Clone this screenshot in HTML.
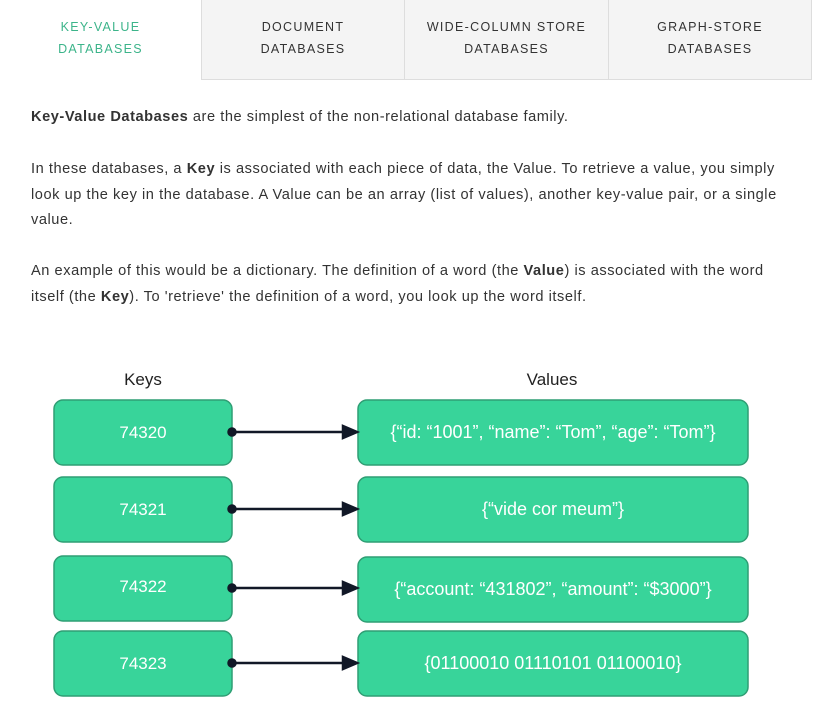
<!DOCTYPE html>
<html><head><meta charset="utf-8"><style>
body{margin:0;width:816px;height:708px;background:#fff;position:relative;overflow:hidden;font-family:"Liberation Sans",sans-serif}
.tab{position:absolute;top:0;height:80px;text-align:center;font-size:12.5px;letter-spacing:1.3px;line-height:22px;padding-top:16px;box-sizing:border-box;color:#333}
.g{background:#f4f4f4;border-left:1px solid #ddd;border-bottom:1px solid #ddd}
p{position:absolute;left:31px;width:790px;margin:0;font-size:14.6px;line-height:25.5px;color:#333;letter-spacing:0.55px;white-space:nowrap}
</style></head><body>
<div class="tab" style="left:0;width:201px;color:#3cb48a">KEY-VALUE<br>DATABASES</div>
<div class="tab g" style="left:201px;width:203px">DOCUMENT<br>DATABASES</div>
<div class="tab g" style="left:404px;width:204px">WIDE-COLUMN STORE<br>DATABASES</div>
<div class="tab g" style="left:608px;width:204px;border-right:1px solid #ddd">GRAPH-STORE<br>DATABASES</div>
<p style="top:105px"><b>Key-Value Databases</b> are the simplest of the non-relational database family.</p>
<p style="top:157px">In these databases, a <b>Key</b> is associated with each piece of data, the Value. To retrieve a value, you simply<br>look up the key in the database. A Value can be an array (list of values), another key-value pair, or a single<br>value.</p>
<p style="top:259px">An example of this would be a dictionary. The definition of a word (the <b>Value</b>) is associated with the word<br>itself (the <b>Key</b>). To 'retrieve' the definition of a word, you look up the word itself.</p>
<svg width="816" height="708" style="position:absolute;left:0;top:0" font-family="Liberation Sans, sans-serif">
<text x="143" y="385" font-size="17" text-anchor="middle" fill="#222">Keys</text>
<text x="552" y="385" font-size="17" text-anchor="middle" fill="#222">Values</text>
<g fill="#38d49a" stroke="#2f9e74" stroke-width="1.5">
<rect x="54" y="400" width="178" height="65" rx="9"/><rect x="358" y="400" width="390" height="65" rx="9"/>
<rect x="54" y="477" width="178" height="65" rx="9"/><rect x="358" y="477" width="390" height="65" rx="9"/>
<rect x="54" y="556" width="178" height="65" rx="9"/><rect x="358" y="557" width="390" height="65" rx="9"/>
<rect x="54" y="631" width="178" height="65" rx="9"/><rect x="358" y="631" width="390" height="65" rx="9"/>
</g>
<g stroke="#111827" stroke-width="2.5" fill="#111827">
<line x1="232" y1="432" x2="345" y2="432"/><circle cx="232" cy="432" r="3.5"/><polygon points="343,426 357,432 343,438"/>
<line x1="232" y1="509" x2="345" y2="509"/><circle cx="232" cy="509" r="3.5"/><polygon points="343,503 357,509 343,515"/>
<line x1="232" y1="588" x2="345" y2="588"/><circle cx="232" cy="588" r="3.5"/><polygon points="343,582 357,588 343,594"/>
<line x1="232" y1="663" x2="345" y2="663"/><circle cx="232" cy="663" r="3.5"/><polygon points="343,657 357,663 343,669"/>
</g>
<g fill="#fff" font-size="17" text-anchor="middle">
<text x="143" y="438">74320</text><text x="143" y="515">74321</text><text x="143" y="592">74322</text><text x="143" y="669">74323</text>
<text x="553" y="438" font-size="18">{“id: “1001”, “name”: “Tom”, “age”: “Tom”}</text>
<text x="553" y="515" font-size="18">{“vide cor meum”}</text>
<text x="553" y="595" font-size="18">{“account: “431802”, “amount”: “$3000”}</text>
<text x="553" y="669" font-size="18">{01100010 01110101 01100010}</text>
</g>
</svg>
</body></html>
